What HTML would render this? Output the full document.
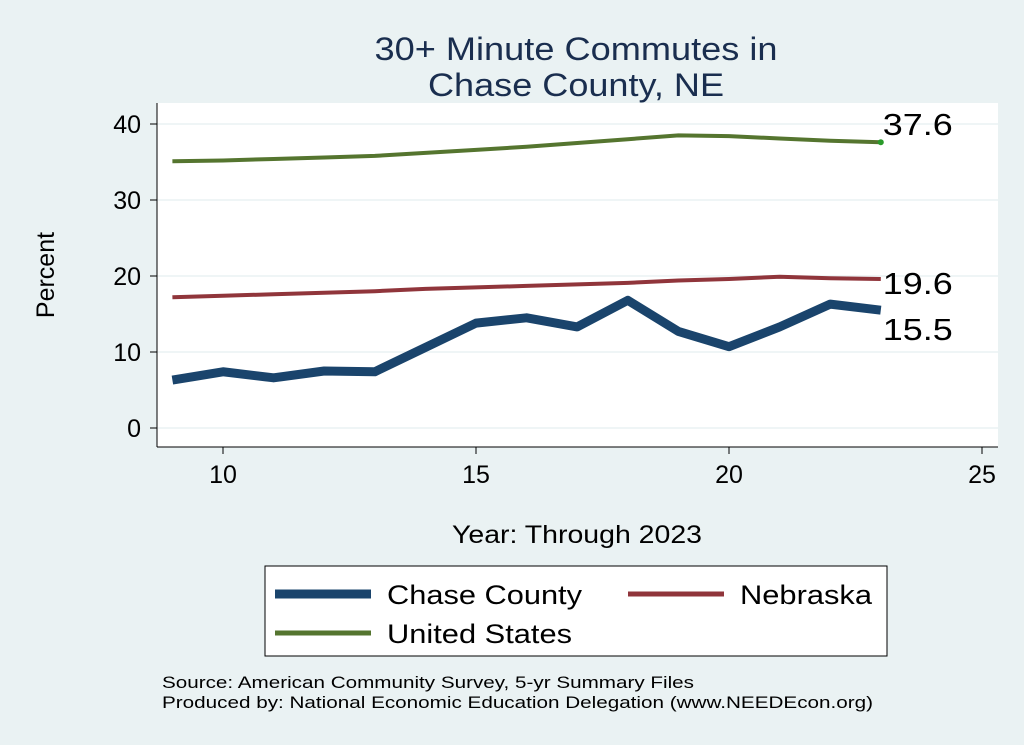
<!DOCTYPE html>
<html><head><meta charset="utf-8"><style>
body{margin:0;background:#eaf2f3;}
svg{display:block;font-family:"Liberation Sans",sans-serif;}
</style></head><body>
<svg id="chart" width="1024" height="745">
<rect x="0" y="0" width="1024" height="745" fill="#eaf2f3"/>
<text x="576" y="60" font-size="32" fill="#1a2e4f" text-anchor="middle" textLength="403" lengthAdjust="spacingAndGlyphs">30+ Minute Commutes in</text>
<text x="576" y="96" font-size="32" fill="#1a2e4f" text-anchor="middle" textLength="296" lengthAdjust="spacingAndGlyphs">Chase County, NE</text>
<rect x="157" y="103" width="841" height="344" fill="#fff"/>
<g id="grid"></g><g id="axes"></g><g id="series"></g>
<text x="54" y="275" font-size="25" text-anchor="middle" transform="rotate(-90 54 275)">Percent</text>
<text x="577" y="543" font-size="25" text-anchor="middle" textLength="250" lengthAdjust="spacingAndGlyphs">Year: Through 2023</text>
<g>
<rect x="265" y="566" width="622" height="90" fill="#fff" stroke="#000" stroke-width="1"/>
<line x1="275" y1="594" x2="371" y2="594" stroke="#1a446c" stroke-width="9"/>
<text x="387" y="604" font-size="27" textLength="195" lengthAdjust="spacingAndGlyphs">Chase County</text>
<line x1="628" y1="594" x2="724" y2="594" stroke="#90353b" stroke-width="5"/>
<text x="740" y="604" font-size="27" textLength="132" lengthAdjust="spacingAndGlyphs">Nebraska</text>
<line x1="275" y1="633" x2="371" y2="633" stroke="#55752f" stroke-width="5"/>
<text x="387" y="643" font-size="27" textLength="185" lengthAdjust="spacingAndGlyphs">United States</text>
</g>
<text x="162" y="688" font-size="17" textLength="532" lengthAdjust="spacingAndGlyphs">Source: American Community Survey, 5-yr Summary Files</text>
<text x="162" y="708" font-size="17" textLength="711" lengthAdjust="spacingAndGlyphs">Produced by: National Economic Education Delegation (www.NEEDEcon.org)</text>
</svg>
<script>
const years=[9,10,11,12,13,14,15,16,17,18,19,20,21,22,23];
const chase=[6.3,7.4,6.6,7.5,7.4,10.6,13.8,14.5,13.3,16.8,12.7,10.7,13.3,16.3,15.5];
const nebraska=[17.2,17.4,17.6,17.8,18.0,18.3,18.5,18.7,18.9,19.1,19.4,19.6,19.9,19.7,19.6];
const us=[35.1,35.2,35.4,35.6,35.8,36.2,36.6,37.0,37.5,38.0,38.5,38.4,38.1,37.8,37.6];
const xTicks=[10,15,20,25];
const yTicks=[0,10,20,30,40];
const NS="http://www.w3.org/2000/svg";
function X(v){return 223+(v-10)*50.6;}
function Y(v){return 428-v*7.6;}
function mk(t,a,p){const e=document.createElementNS(NS,t);for(const k in a)e.setAttribute(k,a[k]);p.appendChild(e);return e;}
const grid=document.getElementById('grid'),axes=document.getElementById('axes'),ser=document.getElementById('series');
mk('line',{x1:157,y1:103,x2:157,y2:447,stroke:'#000'},axes);
mk('line',{x1:157,y1:447,x2:998,y2:447,stroke:'#000'},axes);
yTicks.forEach(v=>{
 const g=mk('line',{x1:157,x2:998,y1:Y(v),y2:Y(v),stroke:'#eaf2f3','stroke-width':1.5},grid);
 
 
 mk('line',{x1:150,x2:157,y1:Y(v),y2:Y(v),stroke:'#000'},axes);
 const t=mk('text',{x:141,y:Y(v)+9,'font-size':25,'text-anchor':'end'},axes);t.textContent=v;
 
 
});
xTicks.forEach(v=>{
 mk('line',{x1:X(v),x2:X(v),y1:447,y2:454,stroke:'#000'},axes);
 const t=mk('text',{x:X(v),y:483,'font-size':25,'text-anchor':'middle'},axes);t.textContent=v;
 
 
});
function series(vals,color,w,name){
 const p=mk('polyline',{points:years.map((y,i)=>X(y)+','+Y(vals[i])).join(' '),fill:'none',stroke:color,'stroke-width':w,'stroke-linejoin':'round'},ser);
 
 
}
series(us,'#55752f',4,'line-united-states');
series(nebraska,'#90353b',4,'line-nebraska');
series(chase,'#1a446c',9,'line-chase-county');
const n=years.length-1;
const d=mk('circle',{cx:X(years[n]),cy:Y(us[n]),r:3,fill:'#2a9a2a'},ser);


function lab(v,dy,name){const t=mk('text',{x:X(years[n])+2,y:Y(v)+dy,'font-size':31,textLength:70,lengthAdjust:'spacingAndGlyphs'},ser);t.textContent=v.toFixed(1);
 
 }
lab(us[n],-7,'label-us-end');
lab(nebraska[n],15,'label-nebraska-end');
lab(chase[n],30,'label-chase-end');
</script>
</body></html>
